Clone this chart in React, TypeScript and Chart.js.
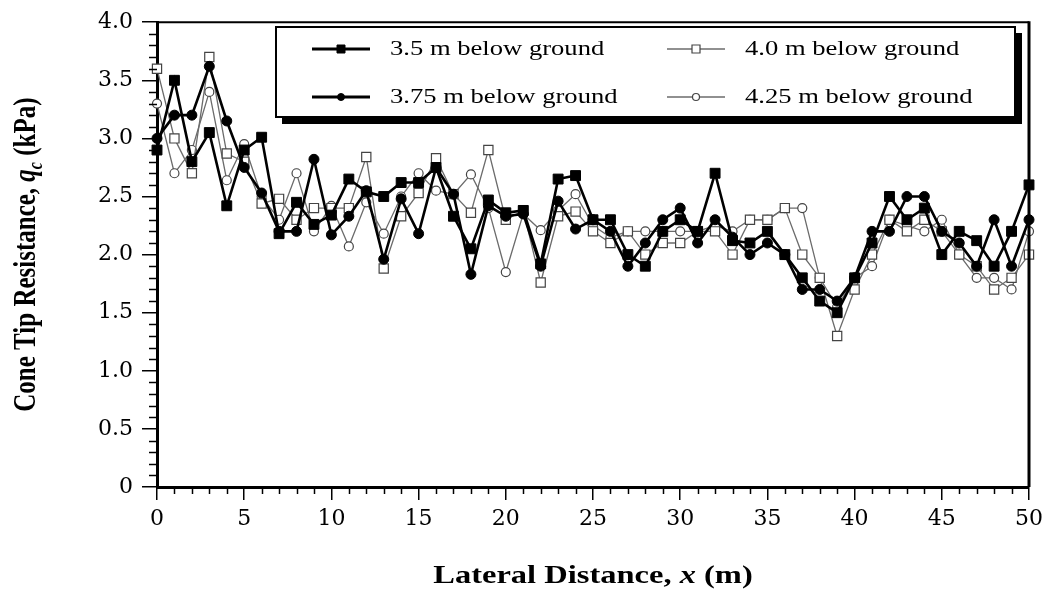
import React, { useEffect, useRef } from "react";
import { Chart, registerables } from "chart.js";

Chart.register(...registerables);

const distance = [
  0, 1, 2, 3, 4, 5, 6, 7, 8, 9, 10, 11, 12, 13, 14, 15, 16, 17, 18, 19, 20, 21, 22, 23, 24, 25,
  26, 27, 28, 29, 30, 31, 32, 33, 34, 35, 36, 37, 38, 39, 40, 41, 42, 43, 44, 45, 46, 47, 48, 49, 50,
];

const depth350 = [
  2.9, 3.5, 2.8, 3.05, 2.42, 2.9, 3.01, 2.18, 2.45, 2.26, 2.34, 2.65, 2.54, 2.5, 2.62, 2.62, 2.75,
  2.33, 2.05, 2.47, 2.36, 2.38, 1.92, 2.65, 2.68, 2.3, 2.3, 2.0, 1.9, 2.2, 2.3, 2.2, 2.7, 2.12, 2.1,
  2.2, 2.0, 1.8, 1.6, 1.5, 1.8, 2.1, 2.5, 2.3, 2.4, 2.0, 2.2, 2.12, 1.9, 2.2, 2.6,
];

const depth375 = [
  3.0, 3.2, 3.2, 3.62, 3.15, 2.75, 2.53, 2.2, 2.2, 2.82, 2.17, 2.33, 2.55, 1.96, 2.48, 2.18, 2.75,
  2.52, 1.83, 2.42, 2.33, 2.35, 1.9, 2.46, 2.22, 2.3, 2.2, 1.9, 2.1, 2.3, 2.4, 2.1, 2.3, 2.15, 2.0,
  2.1, 2.0, 1.7, 1.7, 1.6, 1.8, 2.2, 2.2, 2.5, 2.5, 2.2, 2.1, 1.9, 2.3, 1.9, 2.3,
];

const depth400 = [
  3.6, 3.0, 2.7, 3.7, 2.87, 2.8, 2.44, 2.48, 2.3, 2.4, 2.4, 2.4, 2.84, 1.88, 2.33, 2.53, 2.83, 2.52,
  2.36, 2.9, 2.3, 2.38, 1.76, 2.33, 2.37, 2.2, 2.1, 2.2, 2.0, 2.1, 2.1, 2.2, 2.2, 2.0, 2.3, 2.3, 2.4,
  2.0, 1.8, 1.3, 1.7, 2.0, 2.3, 2.2, 2.3, 2.2, 2.0, 1.9, 1.7, 1.8, 2.0,
];

const depth425 = [
  3.3, 2.7, 2.9, 3.4, 2.64, 2.95, 2.5, 2.3, 2.7, 2.2, 2.42, 2.07, 2.45, 2.18, 2.5, 2.7, 2.55, 2.52,
  2.69, 2.4, 1.85, 2.35, 2.21, 2.38, 2.52, 2.25, 2.15, 2.2, 2.2, 2.2, 2.2, 2.2, 2.25, 2.2, 2.3, 2.3,
  2.4, 2.4, 1.8, 1.55, 1.8, 1.9, 2.3, 2.25, 2.2, 2.3, 2.0, 1.8, 1.8, 1.7, 2.2,
];

const seriesLabels = [
  "3.5 m below ground",
  "3.75 m below ground",
  "4.0 m below ground",
  "4.25 m below ground",
];

const yTitleParts = ["Cone Tip Resistance, ", "q", "c", " (kPa)"];
const xTitleParts = ["Lateral Distance, ", "x", " (m)"];

const W = 1049;
const H = 591;
const GRAY = "#6b6b6b";
const STRETCH = 1.3;

function toPoints(vals: number[]) {
  return distance.map((x, i) => ({ x, y: vals[i] }));
}

function drawMarker(ctx: CanvasRenderingContext2D, kind: string, x: number, y: number, r: number, filled: boolean) {
  ctx.beginPath();
  if (kind === "rect") {
    ctx.rect(x - r, y - r, 2 * r, 2 * r);
  } else {
    ctx.arc(x, y, r, 0, Math.PI * 2);
  }
  ctx.fillStyle = filled ? "#000" : "#fff";
  ctx.fill();
  ctx.lineWidth = filled ? 1 : 1.2;
  ctx.strokeStyle = filled ? "#000" : "#444";
  ctx.stroke();
}

const decorPlugin = {
  id: "decor",
  afterDraw(chart: any) {
    const { ctx, chartArea: a, scales } = chart;
    const xs = scales.x;
    const ys = scales.y;
    ctx.save();

    // minor ticks
    ctx.strokeStyle = "#000";
    ctx.lineWidth = 1.5;
    for (let i = 0; i <= 40; i++) {
      if (i % 5 === 0) continue;
      const py = Math.round(ys.getPixelForValue(i / 10)) + 0.5;
      ctx.beginPath();
      ctx.moveTo(a.left - 8, py);
      ctx.lineTo(a.left, py);
      ctx.stroke();
    }
    for (let i = 0; i <= 50; i++) {
      if (i % 5 === 0) continue;
      const px = Math.round(xs.getPixelForValue(i)) + 0.5;
      ctx.beginPath();
      ctx.moveTo(px, a.bottom);
      ctx.lineTo(px, a.bottom + 7);
      ctx.stroke();
    }

    // top & right frame
    ctx.lineWidth = 2;
    ctx.beginPath();
    ctx.moveTo(a.left, a.top);
    ctx.lineTo(a.right, a.top);
    ctx.stroke();
    ctx.lineWidth = 3;
    ctx.beginPath();
    ctx.moveTo(a.right, a.top - 1);
    ctx.lineTo(a.right, a.bottom);
    ctx.stroke();

    // legend box
    const lx = 276, ly = 27, lw = 739, lh = 90;
    ctx.fillStyle = "#000";
    ctx.fillRect(lx + 6, ly + lh, lw + 1, 7);
    ctx.fillRect(lx + lw, ly + 6, 7, lh + 1);
    ctx.fillStyle = "#fff";
    ctx.fillRect(lx, ly, lw, lh);
    ctx.lineWidth = 2;
    ctx.strokeStyle = "#000";
    ctx.strokeRect(lx, ly, lw, lh);

    const entries = [
      { col: 0, row: 0, kind: "rect", filled: true },
      { col: 0, row: 1, kind: "circle", filled: true },
      { col: 1, row: 0, kind: "rect", filled: false },
      { col: 1, row: 1, kind: "circle", filled: false },
    ];
    entries.forEach((e, i) => {
      const x0 = e.col === 0 ? 312 : 667;
      const y0 = e.row === 0 ? 49 : 97;
      ctx.strokeStyle = e.filled ? "#000" : GRAY;
      ctx.lineWidth = e.filled ? 3 : 1.5;
      ctx.beginPath();
      ctx.moveTo(x0, y0);
      ctx.lineTo(x0 + 58, y0);
      ctx.stroke();
      drawMarker(ctx, e.kind, x0 + 29, y0, e.kind === "rect" ? 4 : 3.5, e.filled);
      ctx.save();
      ctx.translate(x0 + 78, y0);
      ctx.scale(1.33, 1);
      ctx.fillStyle = "#000";
      ctx.font = "20px 'Liberation Serif'";
      ctx.textBaseline = "middle";
      ctx.textAlign = "left";
      ctx.fillText(seriesLabels[i], 0, 1);
      ctx.restore();
    });

    // x axis title
    const xFonts = ["bold 25px 'Liberation Serif'", "bold italic 25px 'Liberation Serif'", "bold 25px 'Liberation Serif'"];
    let total = 0;
    xTitleParts.forEach((t, i) => {
      ctx.font = xFonts[i];
      total += ctx.measureText(t).width;
    });
    ctx.save();
    ctx.translate((a.left + a.right) / 2, 583);
    ctx.scale(STRETCH, 1);
    ctx.fillStyle = "#000";
    ctx.textBaseline = "alphabetic";
    ctx.textAlign = "left";
    let cx = -total / 2;
    xTitleParts.forEach((t, i) => {
      ctx.font = xFonts[i];
      ctx.fillText(t, cx, 0);
      cx += ctx.measureText(t).width;
    });
    ctx.restore();

    // y axis title (rotated)
    const yFonts = [
      "bold 25px 'Liberation Serif'",
      "bold italic 25px 'Liberation Serif'",
      "bold italic 16px 'Liberation Serif'",
      "bold 25px 'Liberation Serif'",
    ];
    const yOffsets = [0, 0, 5, 0];
    total = 0;
    yTitleParts.forEach((t, i) => {
      ctx.font = yFonts[i];
      total += ctx.measureText(t).width;
    });
    ctx.save();
    ctx.translate(35, (a.top + a.bottom) / 2 + 0);
    ctx.rotate(-Math.PI / 2);
    ctx.scale(1, STRETCH);
    ctx.fillStyle = "#000";
    ctx.textBaseline = "alphabetic";
    ctx.textAlign = "left";
    cx = -total / 2;
    yTitleParts.forEach((t, i) => {
      ctx.font = yFonts[i];
      ctx.fillText(t, cx, yOffsets[i]);
      cx += ctx.measureText(t).width;
    });
    ctx.restore();

    ctx.restore();
  },
};

export default function App() {
  const canvasRef = useRef<HTMLCanvasElement | null>(null);

  useEffect(() => {
    const canvas = canvasRef.current;
    if (!canvas) return;
    const chart = new Chart(canvas, {
      type: "line",
      data: {
        datasets: [
          {
            label: seriesLabels[0],
            data: toPoints(depth350),
            borderColor: "#000",
            borderWidth: 2.6,
            pointStyle: "rect",
            pointRadius: 7,
            pointBackgroundColor: "#000",
            pointBorderColor: "#000",
            pointBorderWidth: 1,
            clip: false as any,
          },
          {
            label: seriesLabels[1],
            data: toPoints(depth375),
            borderColor: "#000",
            borderWidth: 2.6,
            pointStyle: "circle",
            pointRadius: 5,
            pointBackgroundColor: "#000",
            pointBorderColor: "#000",
            pointBorderWidth: 1,
            clip: false as any,
          },
          {
            label: seriesLabels[2],
            data: toPoints(depth400),
            borderColor: GRAY,
            borderWidth: 1.3,
            pointStyle: "rect",
            pointRadius: 6.5,
            pointBackgroundColor: "#fff",
            pointBorderColor: "#444",
            pointBorderWidth: 1.2,
            clip: false as any,
          },
          {
            label: seriesLabels[3],
            data: toPoints(depth425),
            borderColor: GRAY,
            borderWidth: 1.3,
            pointStyle: "circle",
            pointRadius: 4.5,
            pointBackgroundColor: "#fff",
            pointBorderColor: "#444",
            pointBorderWidth: 1.2,
            clip: false as any,
          },
        ],
      },
      options: {
        responsive: false,
        animation: false,
        parsing: true,
        layout: { padding: { top: 17, right: 16, left: 0, bottom: 0 } },
        plugins: {
          legend: { display: false },
          tooltip: { enabled: false },
          title: { display: false },
        },
        scales: {
          x: {
            type: "linear",
            min: 0,
            max: 50,
            afterFit: (s: any) => {
              s.height = 104;
            },
            ticks: {
              stepSize: 5,
              color: "#000",
              padding: 6,
              maxRotation: 0,
              font: { family: "'DejaVu Serif'", size: 22 },
            },
            grid: {
              drawOnChartArea: false,
              drawTicks: true,
              tickLength: 13,
              color: "#000",
              lineWidth: 1.5,
            },
            border: { display: true, color: "#000", width: 3 },
          },
          y: {
            type: "linear",
            min: 0,
            max: 4,
            afterFit: (s: any) => {
              s.width = 157;
            },
            ticks: {
              stepSize: 0.5,
              color: "#000",
              padding: 9,
              font: { family: "'DejaVu Serif'", size: 22 },
              callback: (v: any) => (Number(v) === 0 ? "0" : Number(v).toFixed(1)),
            },
            grid: {
              drawOnChartArea: false,
              drawTicks: true,
              tickLength: 15,
              color: "#000",
              lineWidth: 1.5,
            },
            border: { display: true, color: "#000", width: 3 },
          },
        },
      },
      plugins: [decorPlugin],
    });
    return () => chart.destroy();
  }, []);

  return (
    <div style={{ position: "absolute", left: 0, top: 0, width: W, height: H, background: "#fff" }}>
      <canvas ref={canvasRef} width={W} height={H} style={{ width: W, height: H, display: "block" }} />
    </div>
  );
}
